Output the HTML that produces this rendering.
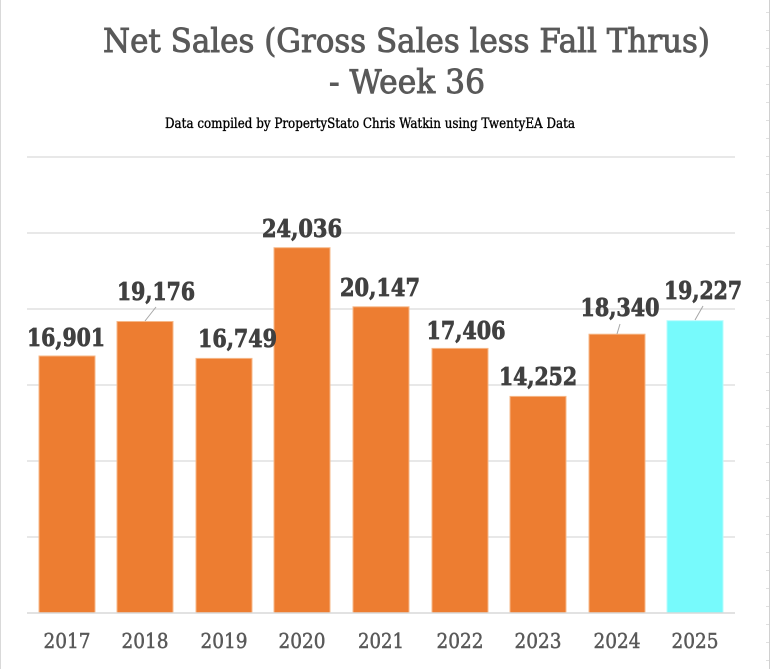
<!DOCTYPE html>
<html><head><meta charset="utf-8"><style>
html,body{margin:0;padding:0;background:#fff;}
svg{display:block;}
</style></head><body>
<svg width="771" height="669" viewBox="0 0 771 669" xmlns="http://www.w3.org/2000/svg">
<rect width="771" height="669" fill="#fff"/>
<line x1="0.5" y1="0" x2="0.5" y2="669" stroke="#d9d9d9" stroke-width="1"/>
<line x1="769.5" y1="0" x2="769.5" y2="669" stroke="#d0d0d0" stroke-width="1"/>
<g stroke="#e0e0e0" stroke-width="1">
<line x1="766" y1="12.5" x2="769" y2="12.5"/><line x1="766" y1="30.5" x2="769" y2="30.5"/><line x1="766" y1="48.5" x2="769" y2="48.5"/><line x1="766" y1="66.5" x2="769" y2="66.5"/><line x1="766" y1="84.5" x2="769" y2="84.5"/><line x1="766" y1="102.5" x2="769" y2="102.5"/><line x1="766" y1="120.5" x2="769" y2="120.5"/><line x1="766" y1="138.5" x2="769" y2="138.5"/><line x1="766" y1="156.5" x2="769" y2="156.5"/><line x1="766" y1="174.5" x2="769" y2="174.5"/><line x1="766" y1="192.5" x2="769" y2="192.5"/><line x1="766" y1="210.5" x2="769" y2="210.5"/><line x1="766" y1="228.5" x2="769" y2="228.5"/><line x1="766" y1="246.5" x2="769" y2="246.5"/><line x1="766" y1="264.5" x2="769" y2="264.5"/><line x1="766" y1="282.5" x2="769" y2="282.5"/><line x1="766" y1="300.5" x2="769" y2="300.5"/><line x1="766" y1="318.5" x2="769" y2="318.5"/><line x1="766" y1="336.5" x2="769" y2="336.5"/><line x1="766" y1="354.5" x2="769" y2="354.5"/><line x1="766" y1="372.5" x2="769" y2="372.5"/><line x1="766" y1="390.5" x2="769" y2="390.5"/><line x1="766" y1="408.5" x2="769" y2="408.5"/><line x1="766" y1="426.5" x2="769" y2="426.5"/><line x1="766" y1="444.5" x2="769" y2="444.5"/><line x1="766" y1="462.5" x2="769" y2="462.5"/><line x1="766" y1="480.5" x2="769" y2="480.5"/><line x1="766" y1="498.5" x2="769" y2="498.5"/><line x1="766" y1="516.5" x2="769" y2="516.5"/><line x1="766" y1="534.5" x2="769" y2="534.5"/><line x1="766" y1="552.5" x2="769" y2="552.5"/><line x1="766" y1="570.5" x2="769" y2="570.5"/><line x1="766" y1="588.5" x2="769" y2="588.5"/><line x1="766" y1="606.5" x2="769" y2="606.5"/><line x1="766" y1="624.5" x2="769" y2="624.5"/><line x1="766" y1="642.5" x2="769" y2="642.5"/><line x1="766" y1="660.5" x2="769" y2="660.5"/>
</g>

<!-- Title -->
<text x="406.5" y="52" text-anchor="middle" font-family="'DejaVu Serif','Liberation Serif',serif" font-size="33" fill="#595959" stroke="#595959" stroke-width="0.9" textLength="607" lengthAdjust="spacingAndGlyphs">Net Sales (Gross Sales less Fall Thrus)</text>
<text x="407" y="93" text-anchor="middle" font-family="'DejaVu Serif','Liberation Serif',serif" font-size="33" fill="#595959" stroke="#595959" stroke-width="0.9" textLength="156" lengthAdjust="spacingAndGlyphs">- Week 36</text>
<text x="370" y="128" text-anchor="middle" font-family="'DejaVu Serif','Liberation Serif',serif" font-size="13.5" fill="#000" stroke="#000" stroke-width="0.35" textLength="410" lengthAdjust="spacingAndGlyphs">Data compiled by PropertyStato Chris Watkin using TwentyEA Data</text>

<!-- Gridlines -->
<g stroke="#d9d9d9" stroke-width="1.3">
<line x1="27" y1="157" x2="735" y2="157"/>
<line x1="27" y1="233" x2="735" y2="233"/>
<line x1="27" y1="309" x2="735" y2="309"/>
<line x1="27" y1="385" x2="735" y2="385"/>
<line x1="27" y1="461" x2="735" y2="461"/>
<line x1="27" y1="537" x2="735" y2="537"/>
</g>

<!-- Bars -->
<g fill="#ED7D31" stroke="#F6B889" stroke-width="1">
<rect x="39" y="356" width="56" height="257"/>
<rect x="117" y="321.5" width="56" height="291.5"/>
<rect x="196" y="358.4" width="56" height="254.6"/>
<rect x="274" y="247.7" width="56" height="365.3"/>
<rect x="353" y="306.8" width="56" height="306.2"/>
<rect x="432" y="348.4" width="56" height="264.6"/>
<rect x="510" y="396.4" width="56" height="216.6"/>
<rect x="589" y="334.2" width="56" height="278.8"/>
</g>
<rect x="667" y="320.7" width="56" height="292.3" fill="#77FAFC" stroke="#B5FCFD" stroke-width="1"/>

<line x1="27" y1="613" x2="735" y2="613" stroke="#d9d9d9" stroke-width="1.5"/>

<!-- Leader lines -->
<g stroke="#a6a6a6" stroke-width="1">
<line x1="156" y1="307" x2="145" y2="321"/>
<line x1="620" y1="324" x2="617" y2="334"/>
<line x1="703" y1="306" x2="695" y2="320"/>
</g>

<!-- Data labels -->
<g font-family="'DejaVu Serif','Liberation Serif',serif" font-weight="bold" font-size="24" fill="#404040" stroke="#404040" stroke-width="0.8" text-anchor="middle">
<text x="66" y="346" textLength="78" lengthAdjust="spacingAndGlyphs">16,901</text>
<text x="156" y="300" textLength="78" lengthAdjust="spacingAndGlyphs">19,176</text>
<text x="237.5" y="347" textLength="79" lengthAdjust="spacingAndGlyphs">16,749</text>
<text x="302" y="237" textLength="80" lengthAdjust="spacingAndGlyphs">24,036</text>
<text x="380" y="296" textLength="80" lengthAdjust="spacingAndGlyphs">20,147</text>
<text x="466" y="339" textLength="79" lengthAdjust="spacingAndGlyphs">17,406</text>
<text x="538" y="385" textLength="78" lengthAdjust="spacingAndGlyphs">14,252</text>
<text x="620" y="316" textLength="79" lengthAdjust="spacingAndGlyphs">18,340</text>
<text x="703" y="299" textLength="78" lengthAdjust="spacingAndGlyphs">19,227</text>
</g>

<!-- X labels -->
<g font-family="'DejaVu Serif','Liberation Serif',serif" font-size="20.5" fill="#595959" stroke="#595959" stroke-width="0.5" text-anchor="middle">
<text x="67" y="648" textLength="47" lengthAdjust="spacingAndGlyphs">2017</text>
<text x="145" y="648" textLength="47" lengthAdjust="spacingAndGlyphs">2018</text>
<text x="224" y="648" textLength="47" lengthAdjust="spacingAndGlyphs">2019</text>
<text x="302" y="648" textLength="47" lengthAdjust="spacingAndGlyphs">2020</text>
<text x="381" y="648" textLength="46" lengthAdjust="spacingAndGlyphs">2021</text>
<text x="460" y="648" textLength="47" lengthAdjust="spacingAndGlyphs">2022</text>
<text x="538" y="648" textLength="47" lengthAdjust="spacingAndGlyphs">2023</text>
<text x="617" y="648" textLength="47" lengthAdjust="spacingAndGlyphs">2024</text>
<text x="695" y="648" textLength="47" lengthAdjust="spacingAndGlyphs">2025</text>
</g>
</svg>
</body></html>
